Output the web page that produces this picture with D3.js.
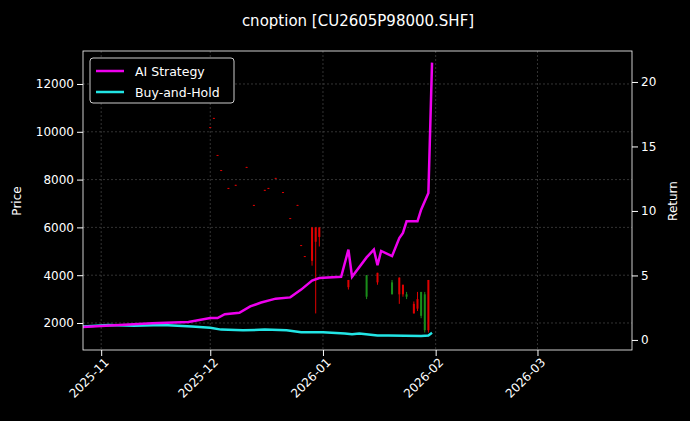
<!DOCTYPE html><html><head><meta charset="utf-8">
<script src="https://cdn.jsdelivr.net/npm/d3@7"></script>
<style>body{margin:0;background:#000}svg{font-family:"DejaVu Sans",sans-serif}</style></head><body>
<svg id="c" width="690" height="421"></svg>
<script>
const stratDates=["2025-10-27","2025-11-06","2025-11-15","2025-11-25","2025-12-01","2025-12-03","2025-12-05","2025-12-09","2025-12-12","2025-12-15","2025-12-19","2025-12-23","2025-12-26","2025-12-29","2025-12-31","2026-01-06","2026-01-08","2026-01-09","2026-01-13","2026-01-15","2026-01-16","2026-01-17","2026-01-20","2026-01-22","2026-01-23","2026-01-24","2026-01-27","2026-01-28","2026-01-30","2026-01-31"];
const stratValues=[1.0,1.15,1.3,1.4,1.7,1.7,2.0,2.1,2.6,2.9,3.2,3.3,3.9,4.6,4.8,4.9,7.0,4.9,6.4,7.0,5.8,6.9,6.5,7.9,8.3,9.2,9.2,10.1,11.4,21.5];
const bhDates=["2025-10-27","2025-11-03","2025-11-10","2025-11-18","2025-11-26","2025-12-01","2025-12-04","2025-12-10","2025-12-16","2025-12-22","2025-12-26","2026-01-01","2026-01-07","2026-01-09","2026-01-11","2026-01-16","2026-01-19","2026-01-28","2026-01-30","2026-01-31"];
const bhValues=[1.05,1.15,1.1,1.15,1.05,0.95,0.8,0.75,0.8,0.75,0.6,0.6,0.5,0.45,0.5,0.35,0.35,0.3,0.35,0.55];
const candleDates=["2025-12-01","2025-12-02","2025-12-03","2025-12-04","2025-12-06","2025-12-08","2025-12-11","2025-12-13","2025-12-16","2025-12-17","2025-12-19","2025-12-21","2025-12-23","2025-12-25","2025-12-26","2025-12-27","2025-12-29","2025-12-30","2025-12-31","2026-01-08","2026-01-13","2026-01-16","2026-01-20","2026-01-22","2026-01-23","2026-01-24","2026-01-26","2026-01-27","2026-01-28","2026-01-29","2026-01-30"];
const candleOpen =[10200,10580,9030,8400,7650,7780,8530,6940,7570,7650,8070,7480,6390,6940,5260,4800,6000,6000,6000,3800,3100,4100,3200,3900,3600,3100,2800,3000,2300,1700,3800];
const candleClose=[10180,10560,9010,8380,7630,7760,8510,6920,7550,7630,8050,7460,6370,6920,5240,4780,4600,5400,5600,3500,4000,3700,3700,3200,3200,3200,2400,2600,3300,3200,1700];
const candleHigh =[10200,10580,9030,8400,7650,7780,8530,6940,7570,7650,8070,7480,6390,6940,5260,4800,6000,6000,6000,3800,4000,4100,3800,3900,3600,3300,2900,3300,3300,3300,3800];
const candleLow  =[10180,10560,9010,8380,7630,7760,8510,6920,7550,7630,8050,7460,6370,6920,5240,4780,4400,2400,5200,3400,3000,3600,3200,2800,3100,3000,2400,2500,2200,1600,1600];
const leftTicks=[2000,4000,6000,8000,10000,12000];
const rightTicks=[0,5,10,15,20];
const xTicks=["2025-11-01","2025-12-01","2026-01-01","2026-02-01","2026-03-01"];

const P=d3.timeParse("%Y-%m-%d");
const svg=d3.select("#c");
const L=83,R=632,T=51,B=350;
const x=d3.scaleTime().domain([P("2025-10-27"),P("2026-03-27")]).range([L,R]);
const yL=d3.scaleLinear().domain([870,13380]).range([B,T]);
const yR=d3.scaleLinear().domain([-0.78,22.4]).range([B,T]);
const g=svg.append("g");
g.selectAll(".vg").data(xTicks).join("line").attr("x1",d=>x(P(d))).attr("x2",d=>x(P(d))).attr("y1",T).attr("y2",B).attr("stroke","#555").attr("stroke-width",0.6).attr("stroke-dasharray","2,2");
g.selectAll(".hg").data(leftTicks).join("line").attr("x1",L).attr("x2",R).attr("y1",d=>yL(d)).attr("y2",d=>yL(d)).attr("stroke","#555").attr("stroke-width",0.6).attr("stroke-dasharray","2,2");
const cd=candleDates.map((d,i)=>({t:P(d),o:candleOpen[i],c:candleClose[i],h:candleHigh[i],l:candleLow[i]}));
g.selectAll(".wk").data(cd).join("line").attr("x1",d=>x(d.t)).attr("x2",d=>x(d.t)).attr("y1",d=>yL(d.h)).attr("y2",d=>yL(d.l)).attr("stroke",d=>d.c>=d.o?"#1a8c1a":"#e00000").attr("stroke-width",1);
g.selectAll(".bd").data(cd).join("rect").attr("x",d=>x(d.t)-1).attr("width",2).attr("y",d=>yL(Math.max(d.o,d.c))).attr("height",d=>Math.max(1,Math.abs(yL(d.o)-yL(d.c)))).attr("fill",d=>d.c>=d.o?"#1a8c1a":"#e00000");
const line=d3.line().x(d=>x(d[0])).y(d=>yR(d[1]));
g.append("path").datum(bhDates.map((d,i)=>[P(d),bhValues[i]])).attr("d",line).attr("fill","none").attr("stroke","#22e5e5").attr("stroke-width",2.5);
g.append("path").datum(stratDates.map((d,i)=>[P(d),stratValues[i]])).attr("d",line).attr("fill","none").attr("stroke","#ee00ee").attr("stroke-width",2.5);
svg.append("rect").attr("x",L).attr("y",T).attr("width",R-L).attr("height",B-T).attr("fill","none").attr("stroke","#fff").attr("stroke-width",0.8);
const ax=svg.append("g").attr("transform",`translate(0,${B})`).call(d3.axisBottom(x).tickValues(xTicks.map(P)).tickFormat(d3.timeFormat("%Y-%m")).tickSizeOuter(0));
ax.selectAll("text").attr("transform","rotate(-45)").attr("text-anchor","end").attr("dx","-0.3em").attr("dy","0.5em");
const al=svg.append("g").attr("transform",`translate(${L},0)`).call(d3.axisLeft(yL).tickValues(leftTicks).tickFormat(d3.format("d")).tickSizeOuter(0));
const ar=svg.append("g").attr("transform",`translate(${R},0)`).call(d3.axisRight(yR).tickValues(rightTicks).tickSizeOuter(0));
[ax,al,ar].forEach(a=>{a.select(".domain").remove();a.selectAll("line").attr("stroke","#fff");a.selectAll("text").attr("fill","#fff").attr("font-size",12).attr("font-family","DejaVu Sans");});
svg.append("text").attr("x",358).attr("y",26).attr("text-anchor","middle").attr("fill","#fff").attr("font-size",15).text("cnoption [CU2605P98000.SHF]");
svg.append("text").attr("transform","translate(21,201) rotate(-90)").attr("text-anchor","middle").attr("fill","#fff").attr("font-size",12).text("Price");
svg.append("text").attr("transform","translate(677,201) rotate(-90)").attr("text-anchor","middle").attr("fill","#fff").attr("font-size",12).text("Return");
const lg=svg.append("g");
lg.append("rect").attr("x",90).attr("y",58).attr("width",144).attr("height",45).attr("rx",3).attr("fill","#000").attr("stroke","#ccc");
[["AI Strategy","#ee00ee"],["Buy-and-Hold","#22e5e5"]].forEach((d,i)=>{const yy=71+i*21;
lg.append("line").attr("x1",96).attr("x2",124).attr("y1",yy).attr("y2",yy).attr("stroke",d[1]).attr("stroke-width",2.5);
lg.append("text").attr("x",135).attr("y",yy+4.5).attr("fill","#fff").attr("font-size",12.5).text(d[0]);});
</script></body></html>
